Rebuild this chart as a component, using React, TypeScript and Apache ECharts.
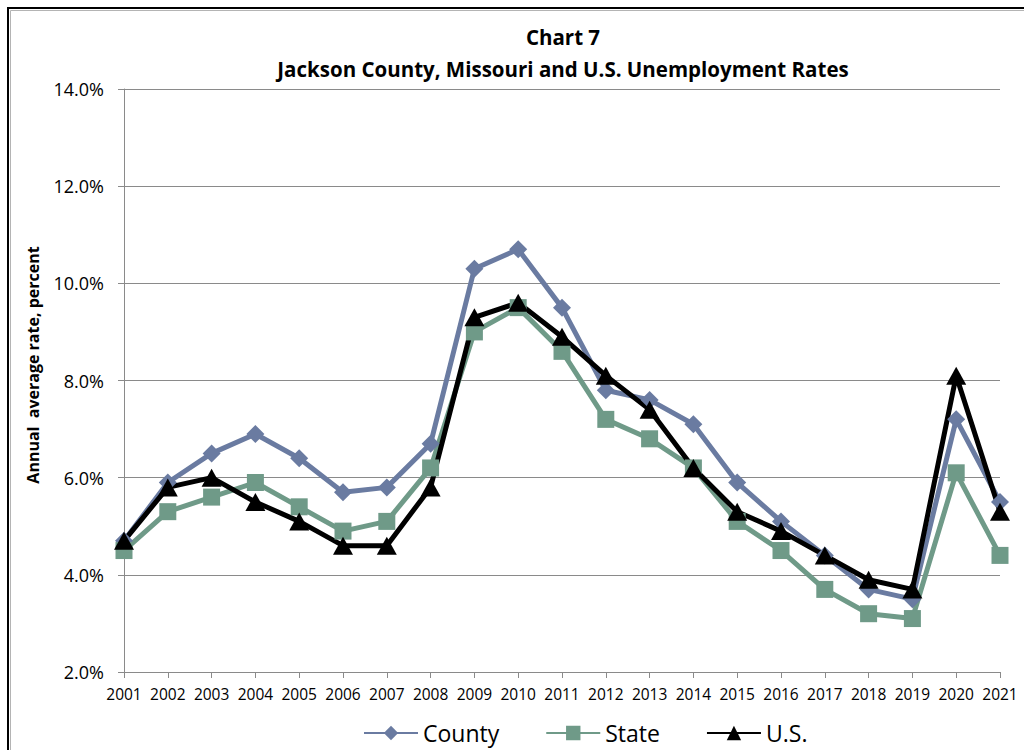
import React, { useEffect, useRef } from "react";
import * as echarts from "echarts";

// Annual average unemployment rates (percent)
const years = [
  "2001", "2002", "2003", "2004", "2005", "2006", "2007", "2008", "2009", "2010", "2011",
  "2012", "2013", "2014", "2015", "2016", "2017", "2018", "2019", "2020", "2021",
];
const county = [4.7, 5.9, 6.5, 6.9, 6.4, 5.7, 5.8, 6.7, 10.3, 10.7, 9.5, 7.8, 7.6, 7.1, 5.9, 5.1, 4.4, 3.7, 3.5, 7.2, 5.5];
const state = [4.5, 5.3, 5.6, 5.9, 5.4, 4.9, 5.1, 6.2, 9.0, 9.5, 8.6, 7.2, 6.8, 6.2, 5.1, 4.5, 3.7, 3.2, 3.1, 6.1, 4.4];
const us = [4.7, 5.8, 6.0, 5.5, 5.1, 4.6, 4.6, 5.8, 9.3, 9.6, 8.9, 8.1, 7.4, 6.2, 5.3, 4.9, 4.4, 3.9, 3.7, 8.1, 5.3];

const titleLines = ["Chart 7", "Jackson County, Missouri and U.S. Unemployment Rates"];
const yAxisTitle = "Annual  average rate, percent";

const FONT = "'Open Sans', 'Liberation Sans', sans-serif";
const GRID_GRAY = "#8a8a8a";

export default function App() {
  const ref = useRef<HTMLDivElement>(null);

  useEffect(() => {
    if (!ref.current) return;
    const chart = echarts.init(ref.current, null, { renderer: "svg" });

    chart.setOption({
      animation: false,
      backgroundColor: "#ffffff",
      grid: { left: 124, right: 24, top: 89, bottom: 78, containLabel: false },
      graphic: [
        {
          type: "rect",
          silent: true,
          shape: { x: 8, y: 8, width: 1100, height: 800 },
          style: { fill: "none", stroke: "#000", lineWidth: 2 },
        },
        {
          type: "rect",
          silent: true,
          shape: { x: 10.5, y: 10.5, width: 1100, height: 800 },
          style: { fill: "none", stroke: "#b4b4b4", lineWidth: 1 },
        },
        {
          type: "text",
          x: 563,
          y: 37,
          style: {
            text: titleLines[0],
            fontFamily: FONT,
            fontSize: 20.5,
            fontWeight: "bold",
            fill: "#000",
            align: "center",
            verticalAlign: "middle",
          },
        },
        {
          type: "text",
          x: 563,
          y: 69,
          style: {
            text: titleLines[1],
            fontFamily: FONT,
            fontSize: 20.5,
            fontWeight: "bold",
            fill: "#000",
            align: "center",
            verticalAlign: "middle",
          },
        },
        {
          type: "text",
          x: 33,
          y: 365,
          rotation: Math.PI / 2,
          style: {
            text: yAxisTitle,
            fontFamily: FONT,
            fontSize: 16,
            fontWeight: "bold",
            fill: "#000",
            align: "center",
            verticalAlign: "middle",
          },
        },
      ],
      legend: {
        left: 358,
        top: 715,
        itemWidth: 54,
        itemHeight: 18,
        itemGap: 46,
        textStyle: { fontFamily: FONT, fontSize: 23, color: "#000", lineHeight: 26 },
        data: ["County", "State", "U.S."],
      },
      xAxis: {
        type: "category",
        data: years,
        boundaryGap: false,
        axisLine: { show: true, lineStyle: { color: GRID_GRAY, width: 1 } },
        axisTick: { show: true, length: 6, lineStyle: { color: GRID_GRAY } },
        axisLabel: { fontFamily: FONT, fontSize: 15.5, color: "#000", margin: 14, interval: 0 },
        splitLine: { show: false },
      },
      yAxis: {
        type: "value",
        min: 2,
        max: 14,
        interval: 2,
        axisLine: { show: true, lineStyle: { color: GRID_GRAY, width: 1 } },
        axisTick: { show: true, length: 6, lineStyle: { color: GRID_GRAY } },
        axisLabel: {
          fontFamily: FONT,
          fontSize: 18,
          color: "#000",
          margin: 20,
          formatter: (v: number) => v.toFixed(1) + "%",
        },
        splitLine: { show: true, lineStyle: { color: GRID_GRAY, width: 1 } },
      },
      series: [
        {
          name: "County",
          type: "line",
          data: county,
          symbol: "diamond",
          symbolSize: 18,
          itemStyle: { color: "#6a7ba1" },
          lineStyle: { color: "#6a7ba1", width: 5 },
        },
        {
          name: "State",
          type: "line",
          data: state,
          symbol: "rect",
          symbolSize: 17,
          itemStyle: { color: "#6f9a88" },
          lineStyle: { color: "#6f9a88", width: 5 },
        },
        {
          name: "U.S.",
          type: "line",
          data: us,
          symbol: "triangle",
          symbolSize: [20, 18],
          itemStyle: { color: "#000000" },
          lineStyle: { color: "#000000", width: 5 },
        },
      ],
    });

    return () => chart.dispose();
  }, []);

  return (
    <div
      ref={ref}
      style={{ position: "absolute", left: 0, top: 0, width: 1024, height: 750 }}
    />
  );
}
